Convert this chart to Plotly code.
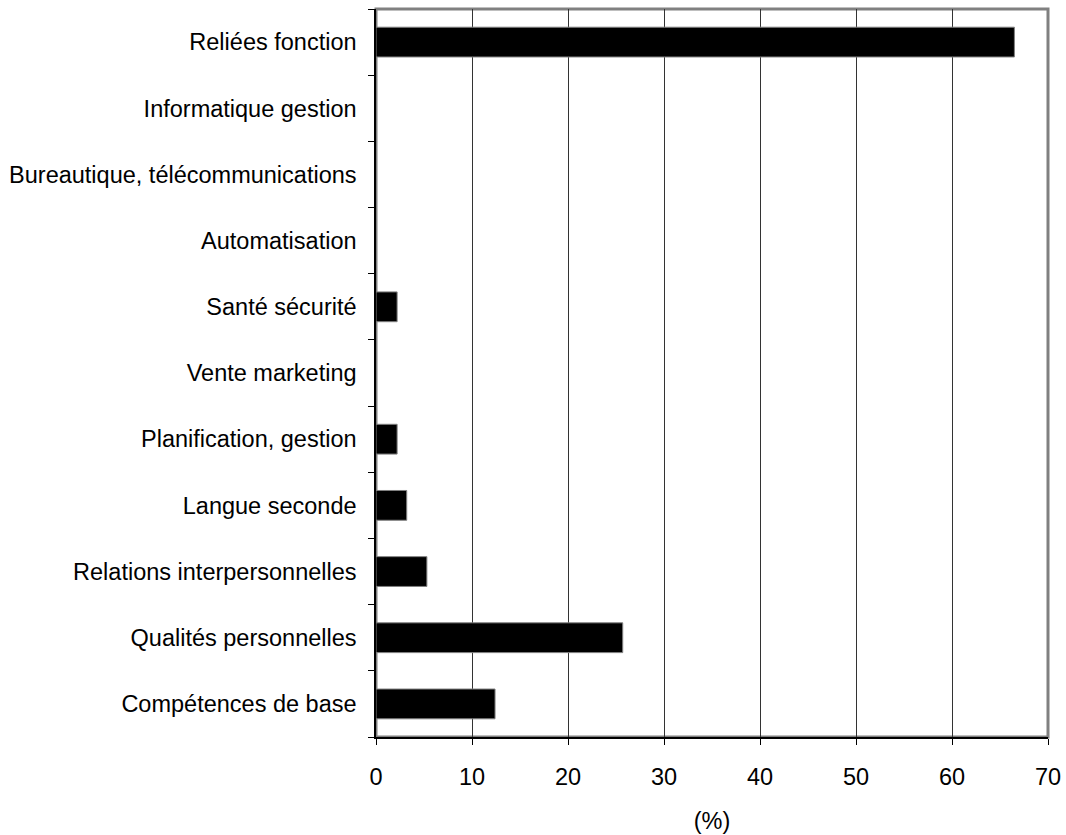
import plotly.graph_objects as go

categories = [
    "Compétences de base",
    "Qualités personnelles",
    "Relations interpersonnelles",
    "Langue seconde",
    "Planification, gestion",
    "Vente marketing",
    "Santé sécurité",
    "Automatisation",
    "Bureautique, télécommunications",
    "Informatique gestion",
    "Reliées fonction",
]
values = [12.4, 25.7, 5.3, 3.2, 2.2, 0, 2.2, 0, 0, 0, 66.5]
x_ticks = [0, 10, 20, 30, 40, 50, 60, 70]

FONT = "Liberation Sans, Arial, sans-serif"
FS = 23.5

fig = go.Figure(
    go.Bar(
        x=values,
        y=categories,
        orientation="h",
        marker=dict(color="black", line=dict(color="#808080", width=1)),
        width=0.45,
    )
)

fig.update_layout(
    width=1066,
    height=835,
    margin=dict(l=376, r=18, t=9, b=98),
    paper_bgcolor="white",
    plot_bgcolor="white",
    showlegend=False,
    font=dict(family=FONT, size=FS, color="black"),
    shapes=[
        dict(
            type="rect", xref="paper", yref="paper", x0=0, x1=1, y0=0, y1=1,
            line=dict(color="#808080", width=3), layer="below",
        )
    ],
)

fig.update_xaxes(
    range=[0, 70],
    tickvals=x_ticks,
    ticks="outside",
    ticklen=6,
    tickcolor="black",
    showgrid=True,
    gridcolor="#333333",
    gridwidth=1,
    showline=True,
    linecolor="black",
    linewidth=1.5,
    zeroline=False,
    tickfont=dict(size=FS, family=FONT, color="black"),
    ticklabelstandoff=12,
    title=dict(text="(%)", font=dict(size=FS, family=FONT, color="black"), standoff=24),
    automargin=False,
    fixedrange=True,
)

fig.update_yaxes(
    categoryorder="array",
    categoryarray=categories,
    ticks="outside",
    tickson="boundaries",
    ticklen=6,
    tickcolor="black",
    showgrid=False,
    showline=True,
    linecolor="black",
    linewidth=1.5,
    tickfont=dict(size=FS, family=FONT, color="black"),
    ticklabelstandoff=13,
    automargin=False,
    fixedrange=True,
)

fig.write_html("out.html")
